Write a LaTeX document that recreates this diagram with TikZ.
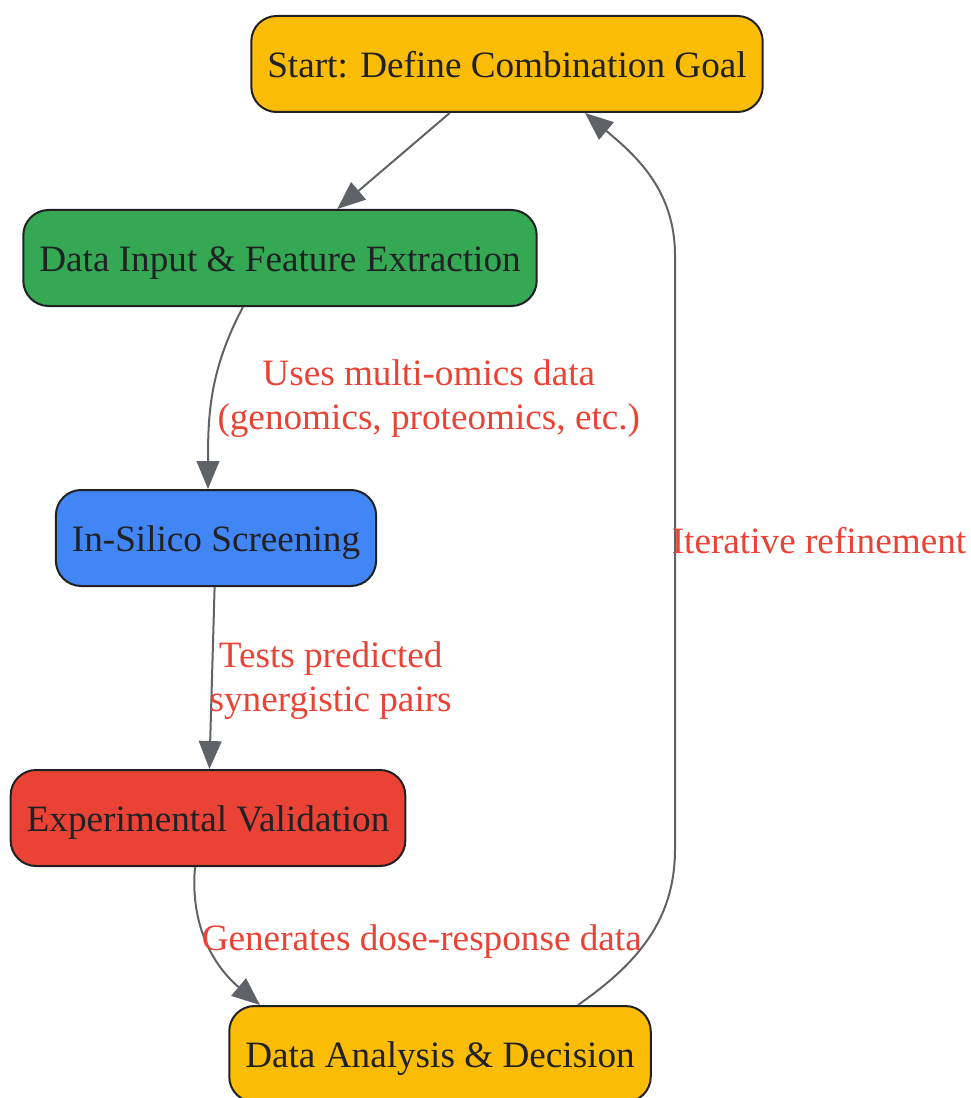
\documentclass[tikz,border=0pt]{standalone}
\usepackage{fontspec}
\setmainfont{Liberation Serif}
\usetikzlibrary{positioning,arrows.meta}
\definecolor{gyellow}{HTML}{FBBC05}
\definecolor{ggreen}{HTML}{34A853}
\definecolor{gblue}{HTML}{4285F4}
\definecolor{gred}{HTML}{EA4335}
\definecolor{edgegray}{HTML}{5F6368}
\definecolor{textdark}{HTML}{202124}

\tikzstyle{block} = [draw=textdark, line width=1.5pt, rectangle, 
    minimum height=72pt, inner xsep=12pt, text=textdark,
    text height=20.5pt, text depth=0pt,
    font=\fontsize{27.9}{33}\selectfont]
\tikzstyle{input} = [coordinate]
\tikzstyle{lbl} = [text=gred, align=center, font=\fontsize{27.9}{33}\selectfont]
\tikzstyle{link} = [draw=edgegray, line width=1.5pt, ->]

\begin{document}
\begin{tikzpicture}[node distance=0em, >={Triangle[length=21pt, width=17pt]}] 
    \useasboundingbox (0,0) rectangle (727.5pt,-823.5pt);
    \node [input, name=input] at (380.25pt,-48pt) {};
    \node [block, fill=gyellow, rounded corners=19pt, align=center, yshift=0em, below of=input] (lvl1)  {Start: Define Combination Goal};
    \node [block, fill=ggreen, rounded corners=19pt, align=center, xshift=-170.25pt, yshift=-145.5pt, below of=lvl1] (lvl2)  {Data Input \& Feature Extraction};
    \node [block, fill=gblue, rounded corners=19pt, align=center, xshift=-48pt, yshift=-210pt, below of=lvl2] (lvl3)  {In-Silico Screening};
    \node [block, fill=gred, rounded corners=19pt, align=center, xshift=-6pt, yshift=-210pt, below of=lvl3] (lvl4)  {Experimental Validation};
    \node [block, fill=gyellow, rounded corners=19pt, align=center, xshift=174pt, yshift=-177pt, below of=lvl4] (lvl5)  {Data Analysis \& Decision};

    \draw [link] (lvl1) -- (lvl2);
    \draw [link] ([xshift=-27.75pt]lvl2.south) to [out=-118, in=90] node [lbl, midway, xshift=162pt, yshift=-3pt] {Uses multi-omics data\\(genomics, proteomics, etc.)} ([xshift=-6pt]lvl3.north);
    \draw [link] (lvl3) -- node [lbl, midway, xshift=89pt, yshift=-2pt] {Tests predicted\\synergistic pairs} (lvl4);
    \draw [link] ([xshift=-9.75pt]lvl4.south) to [out=-95, in=140] node [lbl, midway, xshift=160pt, yshift=2pt] {Generates dose-response data} ([xshift=-135pt]lvl5.north);
    \draw [link] ([xshift=103.5pt]lvl5.north) to [out=35, in=-90] ([xshift=176.25pt, yshift=117pt]lvl5.north) -- node [lbl, midway, xshift=108pt, yshift=9pt] {Iterative refinement} ([xshift=126pt, yshift=-107pt]lvl1.south) to [out=90, in=-40] ([xshift=58.5pt]lvl1.south);
\end{tikzpicture}
\end{document}
